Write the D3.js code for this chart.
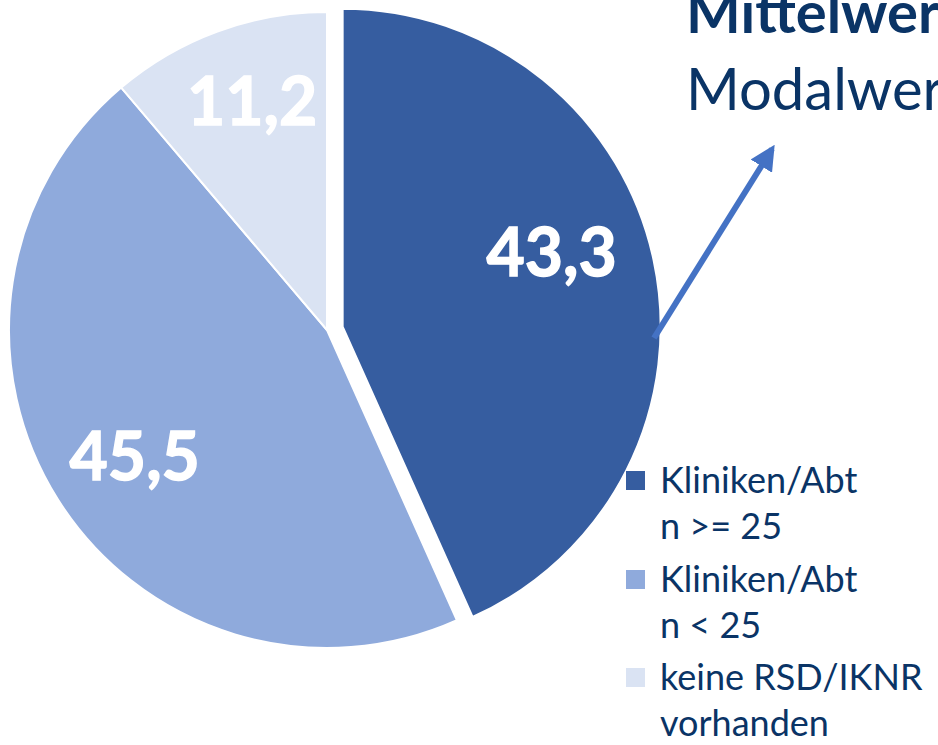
<!DOCTYPE html>
<html>
<head>
<meta charset="utf-8">
<script src="https://cdn.jsdelivr.net/npm/d3@7"></script>
<style>
  html, body { margin: 0; padding: 0; background: #fff; }
  svg { display: block; font-family: Lato, "Open Sans", sans-serif; }
</style>
</head>
<body>
<div id="chart"></div>
<script>
// pie shares in percent, clockwise from 12 o'clock
const categories = ["Kliniken/Abt n >= 25", "Kliniken/Abt n < 25", "keine RSD/IKNR vorhanden"];
const values = [43.3, 45.5, 11.2];
const valueLabels = ["43,3", "45,5", "11,2"];
const legendLines = [["Kliniken/Abt", "n >= 25"], ["Kliniken/Abt", "n < 25"], ["keine RSD/IKNR", "vorhanden"]];
const titleLines = ["Mittelwert", "Modalwert"];

const COLORS = ["#365da0", "#8faadc", "#dae3f3"];
const TEXT_COLOR = "#0a3466";

const width = 938, height = 745;
const cx = 327, cy = 330, radius = 318;
const explode = 16;
// small hand adjustments so labels sit where the original put them
const labelNudge = [[-18, -26], [4, 3], [5, -11]];

const svg = d3.select("#chart").append("svg")
  .attr("width", width)
  .attr("height", height);

const data = categories.map((c, i) => ({ cat: c, value: values[i], label: valueLabels[i], i }));

const pie = d3.pie().sort(null).value(d => d.value);
const arcs = pie(data);

const arc = d3.arc().innerRadius(0).outerRadius(radius);
const labelArc = d3.arc().innerRadius(232).outerRadius(232);

// only the first slice is pulled out
const offset = d => {
  if (d.data.i !== 0) return [0, 0];
  const a = (d.startAngle + d.endAngle) / 2;
  return [Math.sin(a) * explode, -Math.cos(a) * explode];
};

const g = svg.append("g").attr("transform", `translate(${cx},${cy})`);

const slices = g.selectAll("g.slice")
  .data(arcs)
  .join("g")
  .attr("class", "slice")
  .attr("transform", d => `translate(${offset(d)})`);

slices.append("path")
  .attr("d", arc)
  .attr("fill", d => COLORS[d.data.i])
  .attr("stroke", "#fff")
  .attr("stroke-width", 2)
  .attr("stroke-linejoin", "round");

slices.append("text")
  .attr("transform", d => {
    const [x, y] = labelArc.centroid(d);
    const [nx, ny] = labelNudge[d.data.i];
    return `translate(${x + nx},${y + ny})`;
  })
  .attr("text-anchor", "middle")
  .attr("dy", "0.36em")
  .attr("fill", "#fff")
  .attr("stroke", "#fff")
  .attr("stroke-width", 1.4)
  .attr("font-weight", 700)
  .attr("font-size", 66)
  .text(d => d.data.label);

// arrow towards the title
const defs = svg.append("defs");
defs.append("marker")
  .attr("id", "arrowhead")
  .attr("viewBox", "0 0 10 10")
  .attr("refX", 8)
  .attr("refY", 5)
  .attr("markerWidth", 4.2)
  .attr("markerHeight", 4.2)
  .attr("orient", "auto")
  .append("path")
  .attr("d", "M0,0 L10,5 L0,10 Z")
  .attr("fill", "#4472c4");

svg.append("line")
  .attr("x1", 654).attr("y1", 338)
  .attr("x2", 772).attr("y2", 149)
  .attr("stroke", "#4472c4")
  .attr("stroke-width", 6)
  .attr("marker-end", "url(#arrowhead)");

// title lines, running off the right edge as in the original slide
svg.append("text")
  .attr("x", 686).attr("y", 33)
  .attr("fill", TEXT_COLOR)
  .attr("font-weight", 700)
  .attr("font-size", 58)
  .text(titleLines[0]);

svg.append("text")
  .attr("x", 686).attr("y", 110)
  .attr("fill", TEXT_COLOR)
  .attr("font-size", 58)
  .text(titleLines[1]);

// legend
const legendY = [471, 570, 668];
const legend = svg.append("g").attr("class", "legend");
const items = legend.selectAll("g")
  .data(legendLines)
  .join("g")
  .attr("transform", (d, i) => `translate(626,${legendY[i]})`);

items.append("rect")
  .attr("width", 19).attr("height", 19)
  .attr("fill", (d, i) => COLORS[i]);

items.append("text")
  .attr("x", 34)
  .attr("fill", TEXT_COLOR)
  .attr("font-size", 36)
  .selectAll("tspan")
  .data(d => d)
  .join("tspan")
  .attr("x", 34)
  .attr("y", (d, j) => 22 + j * 46)
  .text(d => d);
</script>
</body>
</html>
